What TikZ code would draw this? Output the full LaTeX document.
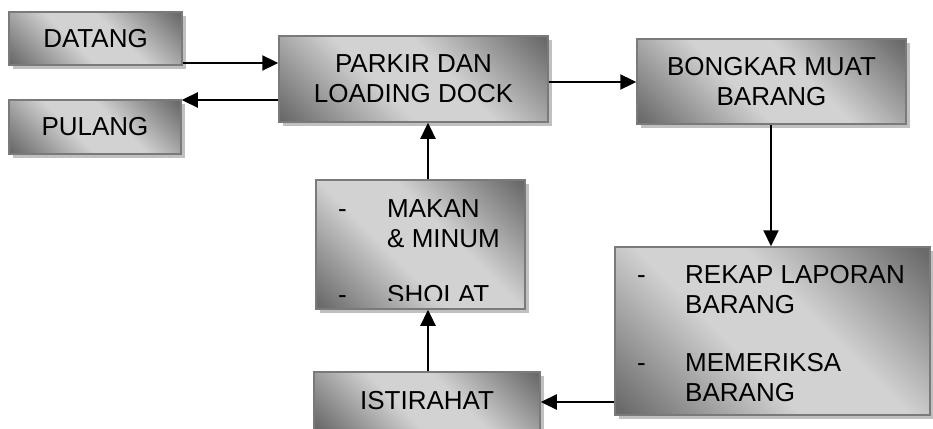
\documentclass[tikz,border=0pt]{standalone}
\usepackage{fontspec}
\setmainfont{Liberation Sans}
\usetikzlibrary{arrows.meta,shadows,calc}
\definecolor{sdark}{HTML}{6A6A6A}
\definecolor{slight}{HTML}{D2D2D2}
\definecolor{bord}{HTML}{7A7A7A}
\definecolor{shad}{HTML}{C0C0C0}
\pgfdeclarehorizontalshading{boxshade}{100bp}{color(0bp)=(sdark); color(16bp)=(sdark); color(42bp)=(slight); color(58bp)=(slight); color(84bp)=(sdark); color(100bp)=(sdark)}
\tikzset{
  box/.style={draw=bord, line width=1.5pt, shading=boxshade, shading angle=45,
    drop shadow={shadow xshift=4pt, shadow yshift=-4pt, fill=shad, opacity=1},
    font=\fontsize{26}{30}\selectfont, align=center, inner sep=0pt},
  arr/.style={line width=2.3pt, -{Triangle[length=16pt,width=15pt]}},
  txt/.style={font=\fontsize{26}{30}\selectfont, anchor=base west, inner sep=0pt}
}
\begin{document}
\begin{tikzpicture}[x=1pt,y=-1pt]
\fill[white] (0,0) rectangle (933,428);
\useasboundingbox (0,0) rectangle (933,428);
\node[box, minimum width=173pt, minimum height=53pt] (datang) at (95.5,38.5) {DATANG};
\node[box, minimum width=172pt, minimum height=54pt] (pulang) at (95,127) {PULANG};
\node[box, minimum width=269pt, minimum height=86pt] (parkir) at (413.5,79) {PARKIR DAN\\LOADING DOCK};
\node[box, minimum width=269pt, minimum height=85pt] (bongkar) at (771.5,81.5) {BONGKAR MUAT\\BARANG};
\node[box, minimum width=209pt, minimum height=129pt] (makan) at (420.5,244.5) {};
\node[box, minimum width=315pt, minimum height=168pt] (rekap) at (772.5,331) {};
\node[box, minimum width=226pt, minimum height=58pt] (istirahat) at (427,401) {ISTIRAHAT};
% list texts
\node[txt] (r1) at (637,283) {-};
\node[txt] (r2) at (685,283) {REKAP LAPORAN};
\node[txt] (r3) at (685,313) {BARANG};
\node[txt] (r4) at (637,371) {-};
\node[txt] (r5) at (685,371) {MEMERIKSA};
\node[txt] (r6) at (685,401) {BARANG};
\begin{scope}
\clip (316,180) rectangle (525,300);
\node[txt] (m1) at (338,217) {-};
\node[txt] (m2) at (387,217) {MAKAN};
\node[txt] (m3) at (387,247) {\& MINUM};
\node[txt] (m4) at (338,303) {-};
\node[txt] (m5) at (387,303) {SHOLAT};
\end{scope}
% connectors
\draw[arr] (datang.east |- 0,63) -- (parkir.west |- 0,63);
\draw[arr] (parkir.west |- 0,100) -- (pulang.east |- 0,100);
\draw[arr] (parkir.east |- 0,82) -- (bongkar.west |- 0,82);
\draw[arr] (bongkar.south -| 771,0) -- (rekap.north -| 771,0);
\draw[arr] (rekap.west |- 0,402) -- (istirahat.east |- 0,402);
\draw[arr] (istirahat.north -| 428,0) -- (makan.south -| 428,0);
\draw[arr] (makan.north -| 428,0) -- (parkir.south -| 428,0);
\end{tikzpicture}
\end{document}
